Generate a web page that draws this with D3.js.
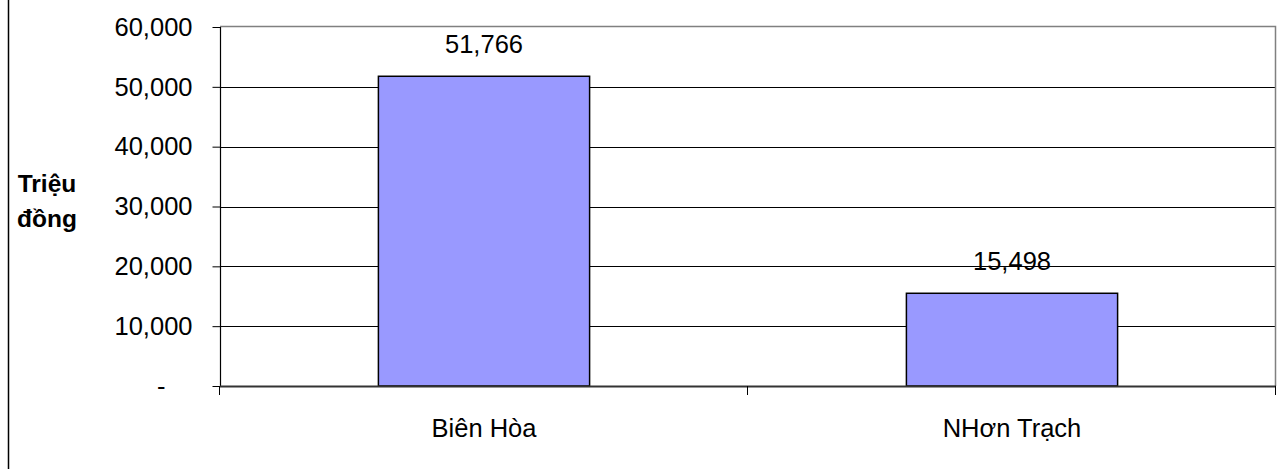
<!DOCTYPE html>
<html>
<head>
<meta charset="utf-8">
<script src="https://cdn.jsdelivr.net/npm/d3@7"></script>
<style>
  body { margin: 0; background: #fff; }
  text { font-family: "Liberation Sans", Arial, sans-serif; fill: #000; }
</style>
</head>
<body>
<svg id="chart" width="1286" height="469"></svg>
<script>
// Chart data.
var categories = ["Biên Hòa", "NHơn Trạch"];
var values = [51766, 15498];
var yTicks = [0, 10000, 20000, 30000, 40000, 50000, 60000];
var yTitle = ["Triệu", "đồng"];

var svg = d3.select("#chart");

// Plot area.
var plotLeft = 220, plotRight = 1276, plotTop = 27, plotBottom = 386;
var fontSize = "25.5px";

var x = d3.scaleBand().domain(categories).range([plotLeft, plotRight]).paddingInner(0).paddingOuter(0);
var y = d3.scaleLinear().domain([0, 60000]).range([plotBottom, plotTop]);

var fmt = function(v) { return v === 0 ? "-" : d3.format(",")(v); };

// Outer frame line on the left.
svg.append("line")
    .attr("x1", 8.5).attr("x2", 8.5)
    .attr("y1", 0).attr("y2", 469)
    .attr("stroke", "#000").attr("stroke-width", 1.5);

// Gridlines.
svg.selectAll("line.grid")
    .data(yTicks.filter(function(t) { return t > 0 && t < 60000; }))
    .enter().append("line")
    .attr("class", "grid")
    .attr("x1", plotLeft).attr("x2", plotRight)
    .attr("y1", function(d) { return Math.round(y(d)) + 0.5; })
    .attr("y2", function(d) { return Math.round(y(d)) + 0.5; })
    .attr("stroke", "#000").attr("stroke-width", 1);

// Plot border top and right (gray).
svg.append("path")
    .attr("d", "M" + plotLeft + "," + (plotTop - 0.5) + "H" + (plotRight - 0.5) + "V" + plotBottom)
    .attr("fill", "none").attr("stroke", "#808080").attr("stroke-width", 1.5);

// Bars.
var barW = x.bandwidth() * 0.4;
svg.selectAll("rect.bar")
    .data(values)
    .enter().append("rect")
    .attr("class", "bar")
    .attr("x", function(d, i) { return x(categories[i]) + (x.bandwidth() - barW) / 2; })
    .attr("y", function(d) { return y(d); })
    .attr("width", barW)
    .attr("height", function(d) { return plotBottom - y(d); })
    .attr("fill", "#9999FF")
    .attr("stroke", "#000").attr("stroke-width", 1.5);

// Value labels.
svg.selectAll("text.val")
    .data(values)
    .enter().append("text")
    .attr("class", "val")
    .attr("x", function(d, i) { return x(categories[i]) + x.bandwidth() / 2; })
    .attr("y", function(d) { return y(d) - 23; })
    .attr("text-anchor", "middle")
    .attr("font-size", fontSize)
    .text(function(d) { return d3.format(",")(d); });

// Y axis.
var yAxis = d3.axisLeft(y).tickValues(yTicks).tickSize(8).tickPadding(20).tickFormat(fmt);
var gy = svg.append("g").attr("transform", "translate(" + (plotLeft + 0.5) + ",0)").call(yAxis);
gy.select(".domain").attr("stroke", "#000").attr("stroke-width", 1.2).attr("d", "M0," + plotTop + "V" + plotBottom);
gy.selectAll(".tick line").attr("stroke", "#000");
gy.selectAll(".tick text")
    .attr("font-size", fontSize)
    .attr("font-family", "Liberation Sans, Arial, sans-serif")
    .attr("fill", "#000")
    .attr("x", function(d) { return d === 0 ? -55 : -28; });   // accounting-style dash sits further left

// X axis baseline and ticks at category boundaries.
svg.append("line")
    .attr("x1", plotLeft).attr("x2", plotRight)
    .attr("y1", plotBottom + 0.5).attr("y2", plotBottom + 0.5)
    .attr("stroke", "#333").attr("stroke-width", 2);
var bounds = categories.map(function(c) { return x(c); }).concat([plotRight]);
svg.selectAll("line.xtick")
    .data(bounds)
    .enter().append("line")
    .attr("class", "xtick")
    .attr("x1", function(d) { return Math.round(d) - 0.5; })
    .attr("x2", function(d) { return Math.round(d) - 0.5; })
    .attr("y1", plotBottom).attr("y2", plotBottom + 9)
    .attr("stroke", "#000").attr("stroke-width", 1);

// Category labels.
svg.selectAll("text.cat")
    .data(categories)
    .enter().append("text")
    .attr("class", "cat")
    .attr("x", function(c) { return x(c) + x.bandwidth() / 2; })
    .attr("y", 437)
    .attr("text-anchor", "middle")
    .attr("font-size", fontSize)
    .text(function(c) { return c; });

// Y axis title.
svg.selectAll("text.ytitle")
    .data(yTitle)
    .enter().append("text")
    .attr("class", "ytitle")
    .attr("x", 47)
    .attr("y", function(d, i) { return 192 + i * 35; })
    .attr("text-anchor", "middle")
    .attr("font-size", "24.5px")
    .attr("font-weight", "bold")
    .text(function(d) { return d; });
</script>
</body>
</html>
